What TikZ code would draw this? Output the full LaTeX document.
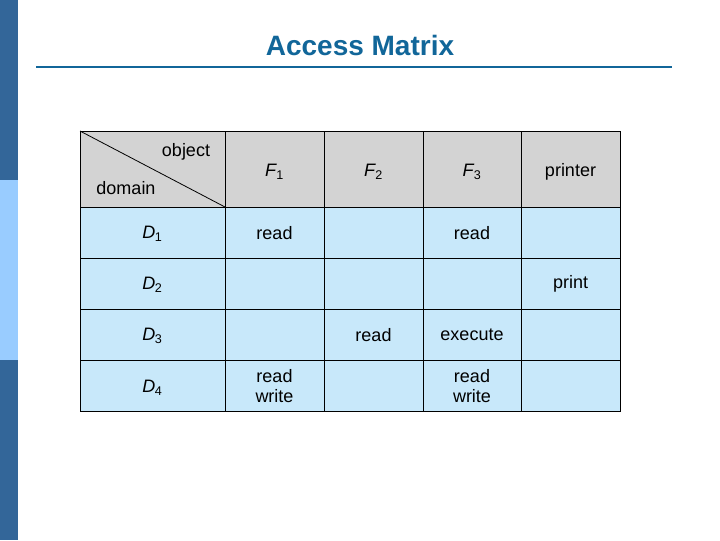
\documentclass[tikz,border=0pt]{standalone}
\usepackage{fontspec}
\setmainfont{Liberation Sans}
\definecolor{bardark}{RGB}{51,102,153}
\definecolor{barlight}{RGB}{153,204,255}
\definecolor{titleblue}{RGB}{17,102,153}
\definecolor{cellblue}{RGB}{200,232,250}
\definecolor{headgray}{RGB}{211,211,211}
\tikzset{every picture/.style={line width=0.75pt},
  celltext/.style={inner sep=0.75pt,font=\fontsize{13.5}{15}\selectfont,align=center}}
\newcommand{\idx}[2]{\textit{#1}\textsubscript{\kern-0.5pt#2}}

\begin{document}
\begin{tikzpicture}[x=0.75pt,y=0.75pt,yscale=-1,xscale=1]
\useasboundingbox (0,0) rectangle (720,540);

%Side bar
\fill [bardark] (0,0) rectangle (18,180);
\fill [barlight] (0,180) rectangle (18,360);
\fill [bardark] (0,360) rectangle (18,540);

%Title
\node (title) [text=titleblue,font=\bfseries\fontsize{21}{25}\selectfont] at (360,45) {Access Matrix};
\draw [titleblue,line width=1.5pt] (36,67) -- (672,67);

%Table
\fill [headgray] (80,131) rectangle (620,207);
\fill [cellblue] (80,207) rectangle (620,411);
\draw [line width=0.6pt] (80,131) rectangle (620,411);
\foreach \x in {225,324,423,521} \draw [line width=0.6pt] (\x,131) -- (\x,411);
\foreach \y in {207,258,309,360} \draw [line width=0.6pt] (80,\y) -- (620,\y);
\draw [line width=0.6pt] (80,131) -- (225,207);

% Text Node
\node (object) [celltext] at (186,152) {object};
\node (domain) [celltext] at (126,188) {domain};
\node (f1) [celltext] at (274.5,172) {\idx{F}{1}};
\node (f2) [celltext] at (373.5,172) {\idx{F}{2}};
\node (f3) [celltext] at (472,172) {\idx{F}{3}};
\node (printer) [celltext] at (570.5,172) {printer};
\node (d1) [celltext] at (152.5,234) {\idx{D}{1}};
\node (d2) [celltext] at (152.5,285) {\idx{D}{2}};
\node (d3) [celltext] at (152.5,336) {\idx{D}{3}};
\node (d4) [celltext] at (152.5,388) {\idx{D}{4}};
\node (d1f1) [celltext] at (274.5,233) {read};
\node (d1f3) [celltext] at (472,233) {read};
\node (d2pr) [celltext] at (570.5,284) {print};
\node (d3f2) [celltext] at (373.5,335) {read};
\node (d3f3) [celltext] at (472,335) {execute};
\node (d4f1) [celltext] at (274.5,386) {read\\write};
\node (d4f3) [celltext] at (472,386) {read\\write};

\end{tikzpicture}
\end{document}
